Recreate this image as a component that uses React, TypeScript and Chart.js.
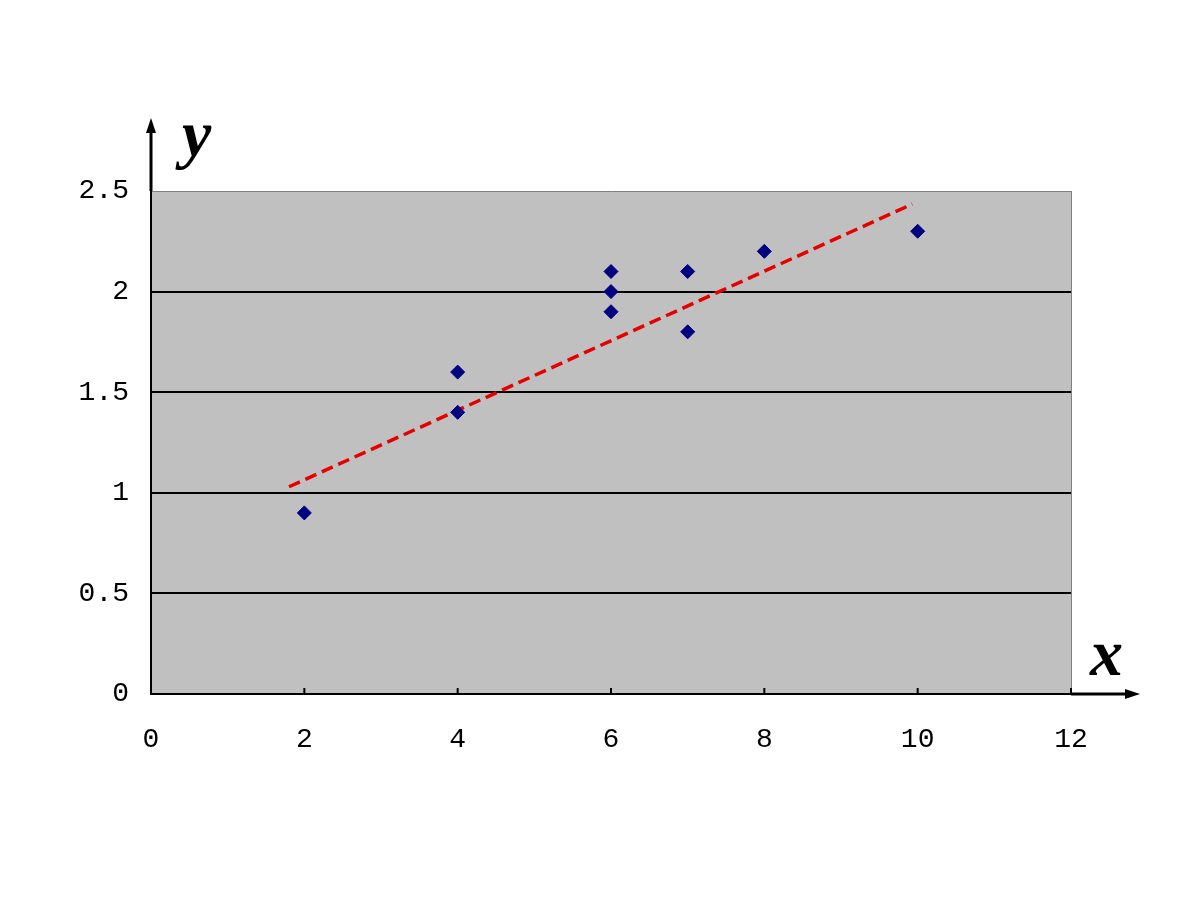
import React, { useEffect, useRef } from 'react';
import { Chart, registerables } from 'chart.js';

Chart.register(...registerables);

// scatter observations
const xValues = [2, 4, 4, 6, 6, 6, 7, 7, 8, 10];
const yValues = [0.9, 1.6, 1.4, 2.1, 2.0, 1.9, 2.1, 1.8, 2.2, 2.3];

// hand drawn trend line (end points)
const trendX = [1.8, 9.93];
const trendY = [1.03, 2.435];

const X_MIN = 0;
const X_MAX = 12;
const X_STEP = 2;
const Y_MIN = 0;
const Y_MAX = 2.5;
const Y_STEP = 0.5;

const TICK_FONT = '"Liberation Mono", "DejaVu Sans Mono", monospace';
const LETTER_FONT = '"Liberation Serif", "DejaVu Serif", serif';

const plotDecor = {
  id: 'plotDecor',
  beforeDraw(chart: any) {
    const { ctx, chartArea } = chart;
    ctx.save();
    ctx.fillStyle = '#C0C0C0';
    ctx.fillRect(chartArea.left, chartArea.top, chartArea.right - chartArea.left, chartArea.bottom - chartArea.top);
    ctx.restore();
  },
  beforeDatasetsDraw(chart: any) {
    const { ctx, chartArea, scales } = chart;
    ctx.save();
    // gray frame on the right
    ctx.strokeStyle = '#808080';
    ctx.lineWidth = 1;
    ctx.beginPath();
    ctx.moveTo(chartArea.right + 0.5, chartArea.top);
    ctx.lineTo(chartArea.right + 0.5, chartArea.bottom);
    ctx.stroke();
    // small inward ticks on the x axis
    ctx.strokeStyle = '#000';
    ctx.lineWidth = 2;
    scales.x.ticks.forEach((t: any) => {
      const px = scales.x.getPixelForValue(t.value);
      ctx.beginPath();
      ctx.moveTo(px, chartArea.bottom);
      ctx.lineTo(px, chartArea.bottom - 6);
      ctx.stroke();
    });
    ctx.restore();
  },
  afterDraw(chart: any) {
    const { ctx, chartArea } = chart;
    const left = chartArea.left;
    const bottom = chartArea.bottom;
    ctx.save();
    ctx.strokeStyle = '#000';
    ctx.fillStyle = '#000';
    ctx.lineWidth = 3;
    // y arrow
    ctx.beginPath();
    ctx.moveTo(left, chartArea.top);
    ctx.lineTo(left, 130);
    ctx.stroke();
    ctx.beginPath();
    ctx.moveTo(left, 118);
    ctx.lineTo(left - 5, 133);
    ctx.lineTo(left + 5, 133);
    ctx.closePath();
    ctx.fill();
    // x arrow
    ctx.beginPath();
    ctx.moveTo(chartArea.right, bottom);
    ctx.lineTo(1128, bottom);
    ctx.stroke();
    ctx.beginPath();
    ctx.moveTo(1140, bottom);
    ctx.lineTo(1125, bottom - 5);
    ctx.lineTo(1125, bottom + 5);
    ctx.closePath();
    ctx.fill();
    // axis letters
    ctx.font = `bold italic 66px ${LETTER_FONT}`;
    ctx.textAlign = 'left';
    ctx.textBaseline = 'alphabetic';
    ctx.fillText('y', 182, 156);
    ctx.fillText('x', 1090, 675);
    ctx.restore();
  },
};

const App: React.FC = () => {
  const canvasRef = useRef<HTMLCanvasElement>(null);
  const chartInstance = useRef<Chart | null>(null);

  useEffect(() => {
    if (!canvasRef.current) return;
    const points = xValues.map((x, i) => ({ x, y: yValues[i] }));
    const trend = trendX.map((x, i) => ({ x, y: trendY[i] }));

    chartInstance.current = new Chart(canvasRef.current, {
      type: 'scatter',
      data: {
        datasets: [
          {
            label: 'trend',
            type: 'line',
            data: trend,
            borderColor: '#E60000',
            borderWidth: 3.5,
            borderDash: [12, 6],
            pointRadius: 0,
            fill: false,
            order: 2,
          },
          {
            label: 'data',
            data: points,
            pointStyle: 'rectRot',
            pointRadius: 7,
            backgroundColor: '#000080',
            borderColor: '#000080',
            borderWidth: 1,
            order: 1,
          },
        ],
      },
      options: {
        responsive: false,
        animation: false,
        devicePixelRatio: 1,
        layout: { padding: { top: 191, right: 129, left: 0, bottom: 0 } },
        plugins: {
          legend: { display: false },
          tooltip: { enabled: false },
        },
        scales: {
          x: {
            type: 'linear',
            min: X_MIN,
            max: X_MAX,
            ticks: {
              stepSize: X_STEP,
              padding: 29,
              color: '#000',
              font: { family: TICK_FONT, size: 28 },
              maxRotation: 0,
              callback: (v: any) => String(v),
            },
            grid: { display: false, drawTicks: false },
            border: { display: true, color: '#000', width: 2 },
            afterFit: (scale: any) => {
              scale.height = 206;
            },
          },
          y: {
            type: 'linear',
            min: Y_MIN,
            max: Y_MAX,
            ticks: {
              stepSize: Y_STEP,
              padding: 22,
              color: '#000',
              font: { family: TICK_FONT, size: 28 },
              callback: (v: any) => String(v),
            },
            grid: {
              drawTicks: false,
              color: (c: any) => (c.tick && c.tick.value === Y_MAX ? '#808080' : '#000'),
              lineWidth: (c: any) => (c.tick && c.tick.value === Y_MAX ? 1 : 2),
            },
            border: { display: true, color: '#000', width: 2 },
            afterFit: (scale: any) => {
              scale.width = 151;
            },
          },
        },
      },
      plugins: [plotDecor],
    });

    return () => {
      chartInstance.current?.destroy();
      chartInstance.current = null;
    };
  }, []);

  return (
    <div style={{ position: 'fixed', left: 0, top: 0, width: 1200, height: 900, background: '#fff' }}>
      <canvas ref={canvasRef} width={1200} height={900} />
    </div>
  );
};

export default App;
